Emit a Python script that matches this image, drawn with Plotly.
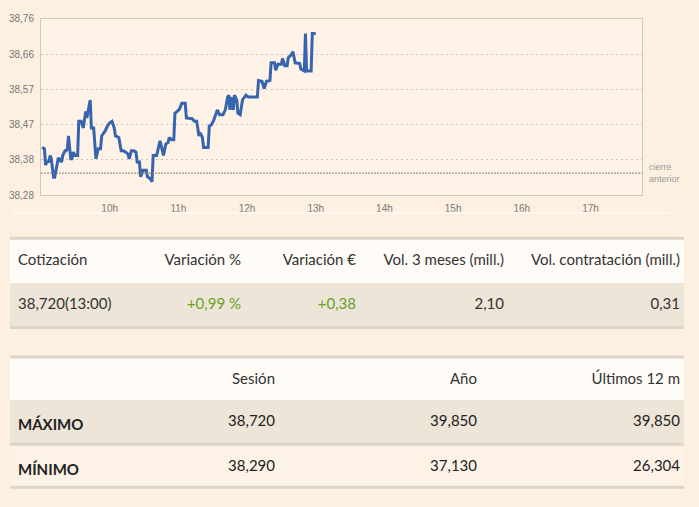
import plotly.graph_objects as go

# intraday quotes (time, price)
times = ["09:01", "09:03", "09:04", "09:05", "09:07", "09:08", "09:09", "09:11", "09:12", "09:14",
         "09:15", "09:16", "09:18", "09:19", "09:21", "09:22", "09:23", "09:24", "09:26", "09:27",
         "09:28", "09:30", "09:32", "09:33", "09:35", "09:37", "09:39", "09:40", "09:43", "09:44",
         "09:46", "09:48", "09:50", "09:52", "09:53", "09:55", "09:56", "09:58", "10:00", "10:02",
         "10:04", "10:05", "10:08", "10:10", "10:12", "10:14", "10:16", "10:17", "10:19", "10:21",
         "10:23", "10:24", "10:26", "10:27", "10:29", "10:32", "10:33", "10:35", "10:37", "10:38",
         "10:41", "10:42", "10:44", "10:45", "10:47", "10:49", "10:51", "10:52", "10:54", "10:56",
         "10:57", "10:59", "11:01", "11:03", "11:06", "11:07", "11:10", "11:12", "11:14", "11:16",
         "11:18", "11:19", "11:21", "11:22", "11:24", "11:26", "11:27", "11:29", "11:31", "11:33",
         "11:34", "11:36", "11:39", "11:41", "11:43", "11:44", "11:45", "11:46", "11:48", "11:49",
         "11:51", "11:52", "11:54", "11:56", "11:58", "11:59", "12:01", "12:05", "12:09", "12:10",
         "12:13", "12:15", "12:17", "12:20", "12:21", "12:24", "12:25", "12:27", "12:30", "12:31",
         "12:33", "12:35", "12:36", "12:39", "12:40", "12:42", "12:44", "12:46", "12:47", "12:49",
         "12:50", "12:51", "12:52", "12:54", "12:56", "12:57", "13:00"]
prices = [38.410, 38.406, 38.362, 38.370, 38.372, 38.388, 38.379, 38.329, 38.329, 38.362,
          38.379, 38.379, 38.370, 38.388, 38.401, 38.401, 38.406, 38.441, 38.379, 38.379,
          38.397, 38.388, 38.388, 38.481, 38.481, 38.463, 38.508, 38.490, 38.539, 38.463,
          38.463, 38.379, 38.406, 38.406, 38.441, 38.450, 38.454, 38.468, 38.477, 38.481,
          38.463, 38.441, 38.437, 38.401, 38.401, 38.397, 38.392, 38.379, 38.401, 38.401,
          38.397, 38.370, 38.370, 38.330, 38.348, 38.348, 38.330, 38.326, 38.317, 38.388,
          38.388, 38.401, 38.428, 38.415, 38.388, 38.419, 38.423, 38.437, 38.431, 38.431,
          38.503, 38.508, 38.514, 38.530, 38.530, 38.490, 38.488, 38.488, 38.481, 38.481,
          38.441, 38.450, 38.437, 38.410, 38.410, 38.410, 38.468, 38.472, 38.485, 38.508,
          38.512, 38.499, 38.499, 38.512, 38.547, 38.552, 38.512, 38.547, 38.512, 38.552,
          38.539, 38.503, 38.499, 38.539, 38.547, 38.552, 38.547, 38.547, 38.547, 38.592,
          38.590, 38.570, 38.590, 38.592, 38.640, 38.640, 38.620, 38.636, 38.636, 38.652,
          38.632, 38.632, 38.654, 38.663, 38.671, 38.640, 38.640, 38.638, 38.623, 38.618,
          38.618, 38.720, 38.618, 38.618, 38.618, 38.720, 38.720]
prev_close = 38.34

y_ticks = [38.28, 38.376, 38.472, 38.568, 38.664, 38.76]
y_ticktext = ["38,28", "38,38", "38,47", "38,57", "38,66", "38,76"]
hours = [10, 11, 12, 13, 14, 15, 16, 17]

# summary tables
quote_header = ["Cotización", "Variación %", "Variación €", "Vol. 3 meses (mill.)", "Vol. contratación (mill.)"]
quote_row = ["38,720(13:00)", "+0,99 %", "+0,38", "2,10", "0,31"]

range_header = ["", "Sesión", "Año", "Últimos 12 m"]
range_labels = ["MÁXIMO", "MÍNIMO"]
sesion = [38.720, 38.290]
anio = [39.850, 37.130]
ultimos_12m = [39.850, 26.304]

DAY = "2024-01-01 "
BG = "#fdf0e1"
WHITE = "#fffcf7"
BEIGE = "#ede5d7"
LIGHT = "#fdf2e6"
CLEAR = "rgba(0,0,0,0)"
FONT = "Lato, Roboto, sans-serif"
W, H = 699, 507
TXT_SHIFT = 7  # plotly puts table text at the top of a cell; nudge it down


def fmt(v):
    return f"{v:.3f}".replace(".", ",")


def fy(px):
    # pixel row -> figure fraction
    return 1 - px / H


fig = go.Figure()

fig.add_trace(go.Scatter(x=[DAY + t for t in times], y=prices, mode="lines",
                         line=dict(color="#3764ae", width=3), hoverinfo="x+y",
                         xaxis="x", yaxis="y"))

# table 1: row backgrounds, then text
fig.add_trace(go.Table(
    domain=dict(x=[10 / W, 684 / W], y=[fy(329), fy(239)]),
    header=dict(values=[""], fill_color=WHITE, line=dict(color=WHITE, width=0), height=44),
    cells=dict(values=[[""]], fill_color=BEIGE, line=dict(color=BEIGE, width=0), height=45),
    hoverinfo="skip"))
fig.add_trace(go.Table(
    domain=dict(x=[10 / W, 688 / W], y=[fy(329 + TXT_SHIFT), fy(239 + TXT_SHIFT)]),
    columnwidth=[130, 109, 115, 148, 176],
    header=dict(values=quote_header, fill_color=CLEAR, line=dict(color=CLEAR, width=0),
                align=["left", "right", "right", "right", "right"],
                font=dict(family=FONT, size=15, color="#333333"), height=44),
    cells=dict(values=[[v] for v in quote_row], fill_color=CLEAR,
               line=dict(color=CLEAR, width=0),
               align=["left", "right", "right", "right", "right"],
               font=dict(family=FONT, size=15,
                         color=["#333333", "#6aa12a", "#6aa12a", "#333333", "#333333"]),
               height=45)))

# table 2: row backgrounds, then text
fig.add_trace(go.Table(
    domain=dict(x=[10 / W, 684 / W], y=[fy(492), fy(360)]),
    header=dict(values=[""], fill_color=WHITE, line=dict(color=WHITE, width=0), height=42),
    cells=dict(values=[["", ""]], fill_color=[[BEIGE, LIGHT]],
               line=dict(color=[[BEIGE, LIGHT]], width=0), height=45),
    hoverinfo="skip"))
fig.add_trace(go.Table(
    domain=dict(x=[10 / W, 688 / W], y=[fy(492 + TXT_SHIFT), fy(360 + TXT_SHIFT)]),
    columnwidth=[110, 163, 202, 203],
    header=dict(values=range_header, fill_color=CLEAR, line=dict(color=CLEAR, width=0),
                align=["left", "right", "right", "right"],
                font=dict(family=FONT, size=15, color="#333333"), height=42),
    cells=dict(values=[["<b>" + s + "</b>" for s in range_labels],
                       [fmt(v) for v in sesion], [fmt(v) for v in anio],
                       [fmt(v) for v in ultimos_12m]],
               fill_color=CLEAR, line=dict(color=CLEAR, width=0),
               align=["left", "right", "right", "right"],
               font=dict(family=FONT, size=15, color="#222222"), height=45)))

shapes = [
    dict(type="line", xref="x domain", yref="y", x0=0, x1=1, y0=prev_close, y1=prev_close,
         line=dict(color="#8a8070", width=1, dash="2px,1px")),
    dict(type="line", xref="paper", yref="paper", x0=12 / W, x1=670 / W, y0=fy(212), y1=fy(212),
         line=dict(color="#fff8ef", width=2)),
]
for py in (238, 329, 359, 448, 492):
    shapes.append(dict(type="line", xref="paper", yref="paper", x0=10 / W, x1=684 / W,
                       y0=fy(py), y1=fy(py), line=dict(color="#ddd5c9", width=3)))

fig.update_layout(
    width=W, height=H, margin=dict(l=0, r=0, t=0, b=0),
    paper_bgcolor=BG, plot_bgcolor="#fef3e6", showlegend=False,
    font=dict(family="Liberation Sans, Arial, sans-serif", size=10, color="#777777"),
    xaxis=dict(domain=[41 / W, 642 / W], type="date",
               range=[DAY + "09:00", DAY + "17:45"],
               tickvals=[DAY + f"{h:02d}:00" for h in hours],
               ticktext=[f"{h}h" for h in hours],
               showgrid=False, zeroline=False, ticks="", ticklabelstandoff=4,
               showline=True, mirror=True, linecolor="#d2c8b8", linewidth=1,
               tickfont=dict(size=10, color="#777777")),
    yaxis=dict(domain=[fy(194), fy(14)], range=[y_ticks[0], y_ticks[-1]],
               tickvals=y_ticks, ticktext=y_ticktext,
               showgrid=True, gridcolor="#cdc4b5", griddash="2px,3px", gridwidth=1,
               zeroline=False, ticks="", ticklabelstandoff=4,
               showline=True, mirror=True, linecolor="#d2c8b8", linewidth=1,
               tickfont=dict(size=10, color="#777777")),
    shapes=shapes,
    annotations=[dict(xref="x domain", yref="y", x=1.008, y=prev_close, xanchor="left",
                      yanchor="middle", align="left", showarrow=False,
                      text="cierre<br>anterior",
                      font=dict(size=9, color="#9a9a9a"))],
)

fig.write_html("out.html", config={"displayModeBar": False},
               post_script="document.body.style.margin='0';"
                           "document.body.style.background='" + BG + "';")
